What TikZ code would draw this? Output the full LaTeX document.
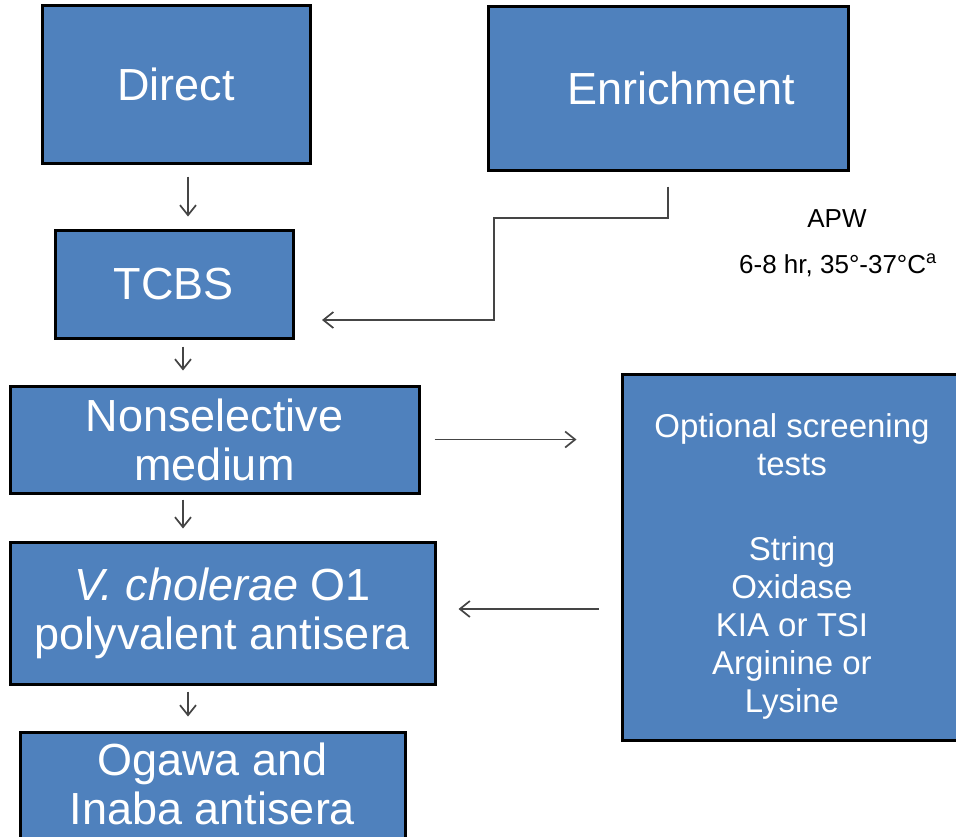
\documentclass[tikz,border=0pt]{standalone}
\usepackage{fontspec}
\setmainfont{Liberation Sans}
\usetikzlibrary{arrows.meta}
\definecolor{boxblue}{HTML}{4F81BD}
\definecolor{arrowgray}{HTML}{454545}
\tikzset{
 box/.style={draw=black, line width=3pt, fill=boxblue, text=white, align=center,
   inner sep=0pt, font=\fontsize{45}{49}\selectfont},
 arr/.style={draw=arrowgray, line width=1.7pt, -{Straight Barb[length=10pt,width=16pt]}},
 note/.style={anchor=base, font=\fontsize{26}{30}\selectfont}
}
\begin{document}
\begin{tikzpicture}[x=1pt,y=-1pt]
\useasboundingbox (0,0) rectangle (956,836);

\node[box, minimum width=268pt, minimum height=158pt] (direct) at (176,84) {Direct};
\node[box, minimum width=360pt, minimum height=164pt] (enrich) at (668,88) {\hspace{26pt}Enrichment};
\node[box, minimum width=238pt, minimum height=108pt] (tcbs) at (174,284) {TCBS};
\node[box, minimum width=409pt, minimum height=107pt] (nonsel) at (214.5,439.5) {Nonselective\\medium};
\node[box, minimum width=425pt, minimum height=142pt] (chol) at (222.5,613) {\textit{V. cholerae} O1\\polyvalent antisera};
\node[box, minimum width=385pt, minimum height=114pt] (ogawa) at (212.5,789) {Ogawa and\\Inaba antisera\rule[-10pt]{0pt}{0pt}};
\node[box, minimum width=340pt, minimum height=366pt, font=\fontsize{33}{38}\selectfont] (screen) at (792,557)
  {\rule{0pt}{42pt}Optional screening\\tests\\[47pt]String\\Oxidase\\KIA or TSI\\Arginine or\\Lysine};

\node[note] (apw) at (837,227) {APW};
\node[note] (temp) at (838,273) {6-8 hr, 35°-37°C\textsuperscript{a}};

\coordinate (bend) at (494,218);
\coordinate (tip) at (322,320);
\draw[arr, shorten <=15pt] (enrich.south) |- (bend) |- (tip);

\draw[arr, shorten <=12pt, shorten >=12pt] ([xshift=12pt]direct.south) -- ([xshift=12pt]direct.south |- tcbs.north);
\draw[arr, shorten <=7pt, shorten >=14pt] ([xshift=9pt]tcbs.south) -- ([xshift=9pt]tcbs.south |- nonsel.north);
\draw[arr, shorten <=5pt, shorten >=12pt] ([xshift=-31.5pt]nonsel.south) -- ([xshift=-31.5pt]nonsel.south |- chol.north);
\draw[arr, shorten <=6pt, shorten >=14pt] ([xshift=-34.5pt]chol.south) -- ([xshift=-34.5pt]chol.south |- ogawa.north);
\draw[arr, shorten <=14pt, shorten >=44pt] (nonsel.east) -- (nonsel.east -| screen.west);
\draw[arr, shorten <=22pt, shorten >=22pt] ([yshift=-52pt]screen.west) -- ([yshift=-52pt]screen.west -| chol.east);
\end{tikzpicture}
\end{document}
